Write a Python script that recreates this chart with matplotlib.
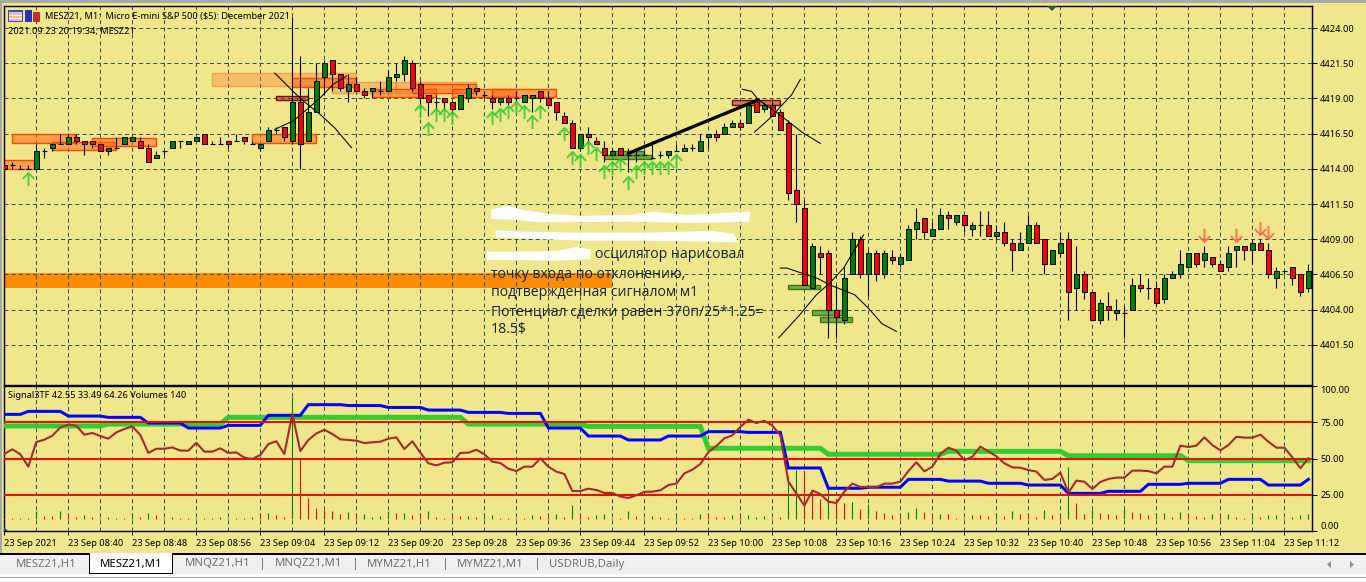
import matplotlib
matplotlib.use("Agg")
import matplotlib.pyplot as plt
from matplotlib.patches import Rectangle, Polygon
from matplotlib.path import Path
from matplotlib.transforms import Affine2D

plt.rcParams['font.family'] = ['Noto Sans', 'DejaVu Sans']
plt.rcParams['lines.scale_dashes'] = False

W, H = 1366, 582
KHAKI = '#F0E68C'
GRID = '#2F4F4F'
PX = 0.72
FS = 6.65

opens = [4414.25,4414.25,4414,4414,4414,4415.25,4415.5,4415.75,4415.75,4416.25,
 4416,4416,4415.75,4415.25,4415.5,4415.75,4416,4416,4415.5,4414.75,
 4415.25,4415.5,4416,4415.75,4416,4416.5,4415.75,4415.75,4416,4416,
 4416.25,4415.75,4415.5,4416,4416.75,4417,4416,4418.75,4416,4418,
 4420.5,4421.75,4420.75,4419.5,4420,4419.5,4419.5,4419.5,4419.5,4420.5,
 4420.75,4421.5,4420,4419.25,4418.75,4419,4418.75,4418.25,4419,4419.75,
 4419.25,4419,4418.75,4419,4419,4418.75,4419,4419.5,4419,4418.75,
 4417.75,4417.25,4415.5,4416.5,4416,4415.5,4415,4415.5,4415,4415,
 4415,4414.75,4415,4415,4415.25,4415.25,4415.5,4415.25,4416.25,4416.5,
 4416.5,4417,4417.25,4417.25,4418.75,4418.25,4418.5,4418,4417.25,4412.5,
 4411.25,4405.5,4408,4408,4404,4403.25,4406.5,4409,4406.5,4408,
 4406.5,4407.75,4407.25,4407.5,4409.75,4410.5,4409.25,4409.75,4410.75,4410.25,
 4410.75,4409.75,4410,4410,4409.25,4409.5,4408.75,4408.25,4408.75,4410,
 4409,4407.25,4408,4409,4405.5,4406.5,4405.25,4403.25,4404.25,4403.75,
 4403.75,4404,4405.75,4405.5,4405.5,4404.75,4406.25,4406.5,4407,4408,
 4407.5,4407.75,4407.25,4407,4408.25,4408.5,4408.25,4408.75,4408.25,4406.25,
 4406.75,4407,4406.5,4405.5]
closes = [4414,4414.25,4414,4414,4415.25,4415.25,4415.75,4415.75,4416.25,4416,
 4415.75,4415.75,4415.25,4415.5,4415.5,4416.25,4416.25,4415.5,4414.5,4415,
 4415.25,4416,4416,4416,4416.25,4415.75,4415.75,4415.75,4415.75,4416,
 4416,4415.75,4415.75,4416.75,4416.75,4416.25,4418.75,4415.75,4418,4420.25,
 4421.5,4420.75,4419.75,4420,4419.5,4419.25,4419.75,4419.5,4420.5,4420.75,
 4421.75,4419.75,4419,4418.75,4418.75,4418.75,4418.25,4419.25,4419.75,4419.5,
 4419.25,4418.75,4419,4418.75,4419,4419.25,4419.25,4419,4418.5,4418,
 4417.25,4415.5,4416.5,4416.25,4415.75,4415,4415.25,4415,4415,4415,
 4415,4414.75,4415,4415.25,4415.25,4415.5,4415.5,4416,4416.5,4416.25,
 4417,4417.25,4417,4418.5,4418,4418.5,4417.75,4416.75,4412.25,4411.5,
 4405.75,4408.5,4407.75,4404,4403.5,4406.25,4409,4406.5,4408,4406.5,
 4408,4407.5,4407.75,4409.75,4410.25,4409.5,4409.75,4410.75,4410.5,4410.75,
 4410,4410,4410,4409.25,4409.5,4408.75,4408.25,4408.75,4410,4408.75,
 4407.25,4408.25,4408.75,4405.25,4406.5,4405.25,4403.25,4404.5,4404,4404,
 4403.75,4405.75,4405.5,4405.5,4404.5,4406.25,4406.5,4407.25,4408,4407.25,
 4408,4407.25,4406.75,4408,4408.5,4408.25,4408.75,4408.25,4406.5,4406.75,
 4406.75,4406.25,4405.25,4406.75]
highs = [4414.25,4414.5,4414.25,4414.25,4415.75,4415.5,4415.75,4416.5,4416.5,4416.5,
 4416,4416,4415.75,4415.5,4416.25,4416.25,4416.25,4416.25,4415.75,4415.25,
 4415.25,4416,4416,4416,4416.25,4416.5,4416,4416.25,4416,4416.5,
 4416.25,4416,4415.75,4417,4417,4417,4424.75,4422,4419.75,4421.5,
 4421.75,4421.75,4420.75,4420.75,4420.5,4419.75,4419.75,4420.25,4421,4421.5,
 4422,4421.75,4420.25,4419.25,4419.25,4419,4418.75,4419.25,4420,4419.75,
 4419.5,4419.25,4419,4419.25,4419.5,4419.25,4419.25,4419.5,4419.5,4418.75,
 4418,4417.5,4416.5,4417,4416.25,4416,4415.5,4415.5,4415.5,4415.5,
 4415.25,4416,4415.25,4415.25,4415.75,4415.75,4415.75,4416.5,4416.5,4416.75,
 4417.25,4417.5,4417.5,4418.75,4419,4418.75,4418.75,4418.25,4417.5,4416.5,
 4411.75,4408.75,4408.5,4408.25,4405.75,4407,4409.5,4409.25,4408.25,4408.25,
 4408.25,4408.25,4408,4410,4411.25,4410.5,4410.25,4411.25,4411,4410.75,
 4410.75,4410.25,4411,4411,4410,4410.25,4409,4409.5,4410.75,4410.25,
 4409,4408.25,4409.5,4409.5,4408.5,4406.75,4405.25,4404.75,4405.25,4404.75,
 4404.25,4406.25,4406.5,4406.25,4406,4406.5,4406.75,4408.25,4408,4408,
 4408.5,4407.75,4407.5,4408.5,4408.5,4408.5,4409,4409,4408.75,4407,
 4406.75,4407,4406.5,4407.25]
lows = [4414,4414,4414,4414,4414,4414.75,4415.25,4415.75,4415.75,4415.75,
 4415,4415.5,4415.25,4415,4415.5,4415.75,4416,4415.5,4414.5,4414.75,
 4415,4415.5,4415.5,4415.75,4416,4415.75,4415.75,4415.75,4415.5,4416,
 4415.75,4415.75,4415.25,4416,4416.5,4416,4415.75,4414,4416,4418,
 4419.25,4419.5,4419.5,4418.75,4419.5,4419,4419,4419.25,4419.5,4420.25,
 4420.25,4419.5,4418.5,4417.75,4418.25,4418.25,4418,4418.25,4418.75,4419.25,
 4419,4418.25,4418.5,4418.5,4418.75,4418.75,4418,4418.75,4418.5,4417.5,
 4417.25,4415.5,4415.25,4415.75,4415.75,4414.5,4415,4415,4413.75,4414.5,
 4415,4414.75,4414.75,4414.75,4415.25,4415.25,4415.25,4415.25,4415.5,4416,
 4416.5,4417,4416.75,4417.25,4418,4418,4417.75,4416.75,4411.75,4410.25,
 4405.75,4405.5,4406.5,4402,4402,4403,4406.5,4406.25,4405,4406,
 4406.25,4407.25,4407,4407.5,4409,4409,4409.25,4409.75,4409.75,4410,
 4409.5,4409.25,4409.25,4409.25,4409,4408.5,4406.75,4408.25,4408.75,4408.75,
 4406.5,4407.25,4407.75,4403.25,4404,4404.75,4403.25,4403,4403.25,4403.25,
 4402,4404,4405.25,4404.75,4404.25,4404.5,4406.25,4406.25,4407,4407,
 4407,4407,4406.75,4406.75,4407,4407.5,4407.25,4408.25,4406.25,4405.5,
 4406.5,4405.75,4405,4405.25]

signal_blue = [80.25]*3 + [82.3]*5 + [79.1]*5 + [78.2]*5 + [74.3]*5 + [70.9]*5 + [72.7]*5 + [79.6]*5 + \
 [86.9]*5 + [86.3]*5 + [85]*5 + [83.2]*5 + [81.6]*5 + [80.9]*5 + [70.9]*5 + [65.4]*5 + [62.7]*5 + \
 [65.4]*5 + [68.4]*5 + [67.9]*5 + [43.5]*5 + [29.6]*5 + [30.3]*5 + [35.7]*5 + [34.5]*5 + [33]*5 + \
 [31.8]*5 + [26.1]*5 + [27.5]*5 + [32.3]*5 + [33]*5 + [35.7]*5 + [31.8]*5 + [35.7]
signal_green = [72.3]*13 + [73.6]*15 + [78.2]*30 + [73.6]*15 + [72]*15 + [57]*15 + [52.9]*15 + \
 [54.9]*15 + [51.9]*15 + [48.5]*16
signal_brown = [53.1,56.3,52.9,44.4,61.3,62.9,65.6,71.3,73.2,72.5,
 66.3,67.5,65.4,63.6,67.9,70.2,72,66.1,53.8,56.7,
 56.7,57.6,55.4,55.4,60.8,54.7,54.7,57,53.8,54.2,
 50.6,49.7,52.4,59.9,61.8,53.1,80.5,55.1,62.7,67.2,
 69.7,66.8,63.1,62.7,62.2,60.6,61.1,61.5,63.6,64.5,
 56.5,61.8,54,46.7,45.3,47.1,47.4,53.8,54,56,
 52.9,47.8,46.9,43,41.4,44.4,44.4,50.1,44.4,41,
 39.4,27.7,27.7,29.3,28.4,26.4,26.4,23.9,22.9,24.8,
 27.1,27.3,28.2,31.8,32.8,39.8,42.3,46.2,54.4,58.6,
 63.8,65.9,71.6,76.6,74.3,75.9,72.5,65.9,34.1,26.1,
 17.7,28,25.7,20.4,19.5,27.3,32.8,30.5,30.5,30.2,
 32.8,32.8,34.1,41.4,47.4,41.2,44.4,53.1,57.4,55.4,
 48.7,51.3,58.1,54.9,51.5,46.7,43.9,43.7,42.1,41,
 35.3,36,40.3,26.6,34.8,34.1,29.1,33.9,36,36.9,
 36.9,41.7,41.7,41.4,39.8,44.4,44.4,58.8,57.9,58.8,
 64.5,59.2,55.6,59.2,64.9,64.3,64.3,66.3,61.5,57.4,
 57.4,50.8,43.3,50.1]

volumes = [30,20,20,20,250,80,80,240,80,60,
 120,60,30,60,30,30,120,60,180,120,
 40,60,30,30,30,30,30,60,30,30,
 30,60,120,180,120,60,3670,1820,630,330,
 270,240,150,210,120,150,60,90,240,180,
 180,120,120,240,60,30,60,90,90,60,
 90,120,30,30,30,30,120,90,60,150,
 60,420,90,60,120,150,30,30,240,90,
 30,90,60,30,60,30,30,150,120,60,
 60,120,60,120,60,90,30,60,1300,1470,
 1450,800,600,1000,600,480,500,300,450,240,
 180,120,90,210,330,210,90,150,150,30,
 30,120,120,90,120,90,240,150,120,60,
 270,120,90,1550,480,150,270,180,150,120,
 300,210,180,120,150,180,60,210,150,90,
 60,150,90,150,60,30,90,60,120,120,
 30,60,120,140]
volume_up = [0,0,0,1,1,0,0,1,0,0,
 1,0,0,1,1,0,1,0,1,0,
 1,1,0,0,1,0,1,1,1,0,
 1,1,0,1,0,0,1,0,0,0,
 0,0,0,1,0,1,1,1,1,0,
 1,0,0,1,0,0,0,0,1,0,
 1,1,0,0,0,0,1,0,0,1,
 0,1,0,0,1,1,0,0,1,0,
 0,1,0,0,1,0,0,1,0,0,
 0,1,0,1,1,1,0,0,1,1,
 0,0,0,1,0,0,1,0,1,0,
 0,0,0,1,1,0,0,1,0,0,
 0,1,0,0,1,0,1,0,0,0,
 1,0,0,1,0,0,1,0,0,0,
 1,0,0,0,1,1,0,1,0,0,
 0,1,0,1,0,0,1,0,1,1,
 0,1,1,1]

price_ticks = [4401.5,4404,4406.5,4409,4411.5,4414,4416.5,4419,4421.5,4424]
osc_ticks = [0,25,50,75,100]
osc_levels = [25,50,75]
time_labels = ['23 Sep 2021','23 Sep 08:40','23 Sep 08:48','23 Sep 08:56','23 Sep 09:04','23 Sep 09:12',
 '23 Sep 09:20','23 Sep 09:28','23 Sep 09:36','23 Sep 09:44','23 Sep 09:52','23 Sep 10:00','23 Sep 10:08',
 '23 Sep 10:16','23 Sep 10:24','23 Sep 10:32','23 Sep 10:40','23 Sep 10:48','23 Sep 10:56','23 Sep 11:04','23 Sep 11:12']

# zones: first bar, last bar, low price, high price
orange_zones = [(-1,3.8,4414,4414.6),(1,8.8,4415.8,4416.45),(6,13.9,4415.3,4415.9),(11,18.9,4415.6,4416.2),
 (31,38.9,4415.8,4416.45),(36,44,4419.8,4420.45),(46,54,4419.1,4419.7),(51,59,4419.35,4420),
 (56,64,4419.1,4419.65),(61,69,4419.1,4419.65)]
light_zones = [(26,44,4419.9,4420.8),(41,49,4419.4,4420.2),(49,59,4419.4,4420.2)]
brown_zones = [(34,38,4418.9,4419.2),(91,97,4418.55,4418.9)]
green_zones = [(76,80,4415,4415.25),(75,81,4414.7,4415),(98,102,4405.45,4405.75),(101,105,4403.65,4403.95),(102,106,4403.15,4403.45)]
wide_zone = (-1,76,4405.5,4406.6)
trend_i, trend_p = [78,94.25],[4415.1,4418.9]
thin_curves = [
 ([33.8,36.1,37.2,39.5,41.3,43.4],[4420.8,4419.5,4418.9,4417.85,4416.9,4415.5]),
 ([33.8,36.1,37.8,39.5,41.1,42.8],[4416.8,4417.4,4418.2,4419.05,4420,4420.6]),
 ([92.25,93.4,94.25,97,99.7,102],[4419.65,4419.5,4418.9,4417.8,4416.6,4415.8]),
 ([93.75,95.9,97,98.4,99.5],[4416.6,4417.7,4418.4,4419.25,4420.35]),
 ([97,97.8,101.7,103.2,106.3,108,109.7,111.5],[4406.95,4406.95,4406.2,4405.75,4405.05,4404.1,4403,4402.45]),
 ([96.8,99.3,101.5,103.2,104.9,107.4],[4402,4403.55,4405.05,4405.9,4406.95,4409.3]),
]
up_i = [3,52,53,54,55,56,61,62,63,64,65,66,67,70,71,72,73,74,75,76,77,78,79,80,81,82,83,84]
up_p = [4413.3,4418.1,4416.8,4417.8,4417.8,4417.6,4417.6,4417.8,4418.05,4418.3,4418.05,4417.3,4418.05,
 4416.5,4414.8,4414.55,4415.5,4415.05,4413.8,4414.05,4414.3,4413,4413.8,4414.05,4414.05,4414.05,4414.05,4414.55]
down_i = [150,154,157,158]
down_p = [4409.3,4409.3,4409.8,4409.5]

n = len(opens)
idx = list(range(n))
assert n == 164 and all(len(a) == n for a in (closes, highs, lows, signal_blue, signal_green, signal_brown, volumes, volume_up))

fig = plt.figure(figsize=(W/100, H/100), dpi=100, facecolor=KHAKI)

def axes_px(x0, y0, x1, y1):
    return fig.add_axes([x0/W, 1-y1/H, (x1-x0)/W, (y1-y0)/H])

px = Affine2D().scale(1, -1).translate(0, H)   # figure pixels, y downward
xlim = (-0.04, 163.4)

# ---------- chrome ----------
def rect_px(x0, y0, x1, y1, color, z=0, **kw):
    fig.add_artist(Rectangle((x0, y0), x1-x0, y1-y0, transform=px, fc=color, ec='none', zorder=z, **kw))
rect_px(0, 0, W, 3, '#A9A9A9', 5)
rect_px(0, 0, 2, 553, '#A9A9A9', 5)
rect_px(0, 553, W, 554.5, '#000000', 5)
rect_px(0, 554.5, W, 574, '#F0F0F0', 5)
rect_px(0, 574, W, 582, '#FFFFFF', 5)
rect_px(0, 576.5, W, 578, '#A0A0A0', 5)
rect_px(89, 553, 173, 574, '#000000', 5)
rect_px(90, 553, 172, 572.5, '#FFFFFF', 6)
for xs in [262, 355, 445, 537]:
    rect_px(xs, 558, xs+1, 570, '#808080', 6)
tabs = ['MESZ21,H1','MESZ21,M1','MNQZ21,H1','MNQZ21,M1','MYMZ21,H1','MYMZ21,M1','USDRUB,Daily']
tab_x = [16,100,185,275,367,457,549]
for t, x in zip(tabs, tab_x):
    fig.text(x, 564, t, transform=px, fontsize=8.2, va='center', ha='left', zorder=7,
             color='black' if t == 'MESZ21,M1' else '#6E6E6E')

# ---------- price panel ----------
ax = axes_px(4, 6, 1311.6, 385)
ax.set_facecolor(KHAKI)
ax.set_xlim(*xlim)
ax.set_ylim(4424-(385-28)/14.08, 4424+(28-6)/14.08)
ax.yaxis.tick_right()
ax.set_yticks(price_ticks)
ax.set_yticklabels([f'{p:.2f}' for p in price_ticks])
ax.set_xticks([])
ax.tick_params(axis='y', length=3.6, width=PX, labelsize=FS, pad=2.5)
for s in ax.spines.values():
    s.set_linewidth(1.0)
dash = (0, (2.9, 2.2))
grid_bars = idx[4::4]
for b in grid_bars:
    ax.axvline(b, color=GRID, lw=PX, ls=dash, zorder=1)
for p in price_ticks:
    ax.axhline(p, color=GRID, lw=PX, ls=dash, zorder=1)

z0, z1, z2, z3 = wide_zone
ax.add_patch(Rectangle((z0, z2), z1-z0, z3-z2, fc='#FF8C00', ec='none', zorder=0.5))
for a, b, lo, hi in light_zones:
    ax.add_patch(Rectangle((a, lo), b-a, hi-lo, fc='#FF7F32', ec='#FF5020', alpha=0.38, lw=1, zorder=2))
for a, b, lo, hi in orange_zones:
    ax.add_patch(Rectangle((a, lo), b-a, hi-lo, fc=(1, .42, .1, .55), ec='#FF4500', lw=1, zorder=2))
for a, b, lo, hi in brown_zones:
    ax.add_patch(Rectangle((a, lo), b-a, hi-lo, fc=(.6, .2, .15, .55), ec='#8B0000', lw=1, zorder=2))
for a, b, lo, hi in green_zones:
    ax.add_patch(Rectangle((a, lo), b-a, hi-lo, fc=(.3, .55, .15, .7), ec='#2E7D10', lw=1, zorder=2))

ax.vlines(idx, lows, highs, color='black', lw=PX*1.1, zorder=3)
for i in idx:
    o, c = opens[i], closes[i]
    if o == c:
        ax.hlines(o, i-0.33, i+0.33, color='black', lw=PX*1.1, zorder=4)
    else:
        ax.bar(i, abs(c-o), bottom=min(o, c), width=0.56, color='#008000' if c > o else '#FF0000',
               edgecolor='black', linewidth=0.72, zorder=4)

ax.plot(trend_i, trend_p, color='black', lw=3*PX*1.1, zorder=5, solid_capstyle='round')
for xs, ys in thin_curves:
    ax.plot(xs, ys, color='black', lw=0.75, zorder=5)

up_arrow = Path([(-0.85, 0.1), (0, 1), (0.85, 0.1), (0, 1), (0, -1)], [1, 2, 2, 1, 2])
down_arrow = Path([(-0.85, -0.1), (0, -1), (0.85, -0.1), (0, -1), (0, 1)], [1, 2, 2, 1, 2])
ax.plot(up_i, up_p, ls='', marker=up_arrow, ms=9.5, mfc='none', mec='#32CD32', mew=1.4, alpha=0.85, zorder=6)
ax.plot(down_i, down_p, ls='', marker=down_arrow, ms=9.5, mfc='none', mec='#FF6347', mew=1.4, alpha=0.85, zorder=6)

# annotation text pasted over the chart
note_font = ['Open Sans', 'DejaVu Sans']
note_color = '#16222E'
notes = [('осцилятор нарисовал', 595, 255), ('точку входа по отклонению,', 491, 274),
         ('подтвержденная сигналом м1', 491, 292), ('Потенциал сделки равен 370п/25*1.25=', 491, 312),
         ('18.5$', 491, 330)]
for t, x, y in notes:
    fig.text(x, y, t, transform=px, fontsize=10.1, va='center', ha='left', color=note_color,
             family=note_font, zorder=8)
# white scribbles hiding words in the original (zoom coordinates of the region)
blobs = [
 [(35,45),(85,35),(120,45),(200,58),(300,65),(450,62),(520,52),(620,62),(810,52),(805,78),(650,82),(450,78),(180,80),(100,72),(35,70)],
 [(48,108),(120,112),(300,115),(500,115),(700,110),(760,118),(772,140),(700,138),(500,135),(300,135),(120,128),(50,125)],
 [(22,172),(100,172),(230,170),(290,158),(330,165),(330,190),(230,195),(22,192)],
]
blob_t = Affine2D().scale(1/3).translate(480, 195) + px
for b in blobs:
    fig.add_artist(Polygon(b, closed=True, transform=blob_t, fc='white', ec='white', lw=1, zorder=9))

fig.text(45, 16.5, 'MESZ21, M1:  Micro E-mini S&P 500 ($5): December 2021', transform=px, fontsize=FS,
         va='center', ha='left', zorder=8)
fig.text(8, 31.5, '2021.09.23 20:19:34; MESZ21', transform=px, fontsize=FS, va='center', ha='left', zorder=8)
# small window icons and chart-shift marker
for (x0, y0, x1, y1, c) in [(8,10,23,22,'#3050C0'),(9,12,22,21,'#F4B8B0'),(9,15,22,16,'#FFFFFF'),(9,18,22,19,'#FFFFFF'),
                            (25,10,32,22,'#2030C0'),(33,12,40,22,'#C03030')]:
    rect_px(x0, y0, x1, y1, c, 8)
fig.add_artist(Polygon([(1047,6),(1057,6),(1052,11)], transform=px, fc='#2F4F4F', ec='none', zorder=8))

# ---------- oscillator panel ----------
ax2 = axes_px(4, 386, 1311.6, 531)
ax2.set_facecolor(KHAKI)
ax2.set_xlim(*xlim)
ax2.set_ylim(0.3, 99.7)
for s in ax2.spines.values():
    s.set_linewidth(1.0)
for b in grid_bars:
    ax2.axvline(b, color=GRID, lw=PX, ls=dash, zorder=1)

vol_ax = ax2.twinx()
vol_ax.set_ylim(-360, 3990)
vol_ax.axis('off')
vol_ax.vlines(idx, 0, volumes, colors=['#008000' if u else '#FF0000' for u in volume_up], lw=0.8, zorder=2)

ax3 = ax2.twinx()
ax3.set_ylim(ax2.get_ylim())
ax3.axis('off')
ax3.plot(idx, signal_green, color='#32CD32', lw=5*PX, zorder=3, solid_joinstyle='miter')
ax3.plot(idx, signal_blue, color='#0000FF', lw=3*PX, zorder=4, solid_joinstyle='miter')
for lv in osc_levels:
    ax3.axhline(lv, color='#FF0000', lw=1.4, zorder=5)
ax3.plot(idx, signal_brown, color='#A52A2A', lw=1.5, zorder=6)

# twinx moves the host's ticks to the left, so set the host's axes up afterwards
ax2.yaxis.tick_right()
ax2.set_yticks(osc_ticks)
labs = ax2.set_yticklabels([f'{v:.2f}' for v in osc_ticks])
labs[0].set_va('bottom')
labs[-1].set_va('top')
ax2.tick_params(axis='y', length=3.6, width=PX, labelsize=FS, pad=2.5)
ax2.set_xticks(idx[::8])
ax2.set_xticklabels(time_labels, ha='left')
ax2.tick_params(axis='x', length=3, width=PX, labelsize=FS, pad=2.5)

fig.text(8, 395.5, 'Signal3TF 42.55 33.49 64.26 Volumes 140', transform=px, fontsize=FS, va='center', ha='left', zorder=8)
fig.add_artist(Polygon([(4,527),(4,531),(8,531)], transform=px, fc='#2F4F4F', ec='none', zorder=8))
for pts in ([(1331,561),(1331,568),(1327,564.5)], [(1350,561),(1350,568),(1354,564.5)]):
    fig.add_artist(Polygon(pts, transform=px, fc='#909090', ec='none', zorder=8))

fig.savefig('out.png', dpi=100, facecolor=fig.get_facecolor())
